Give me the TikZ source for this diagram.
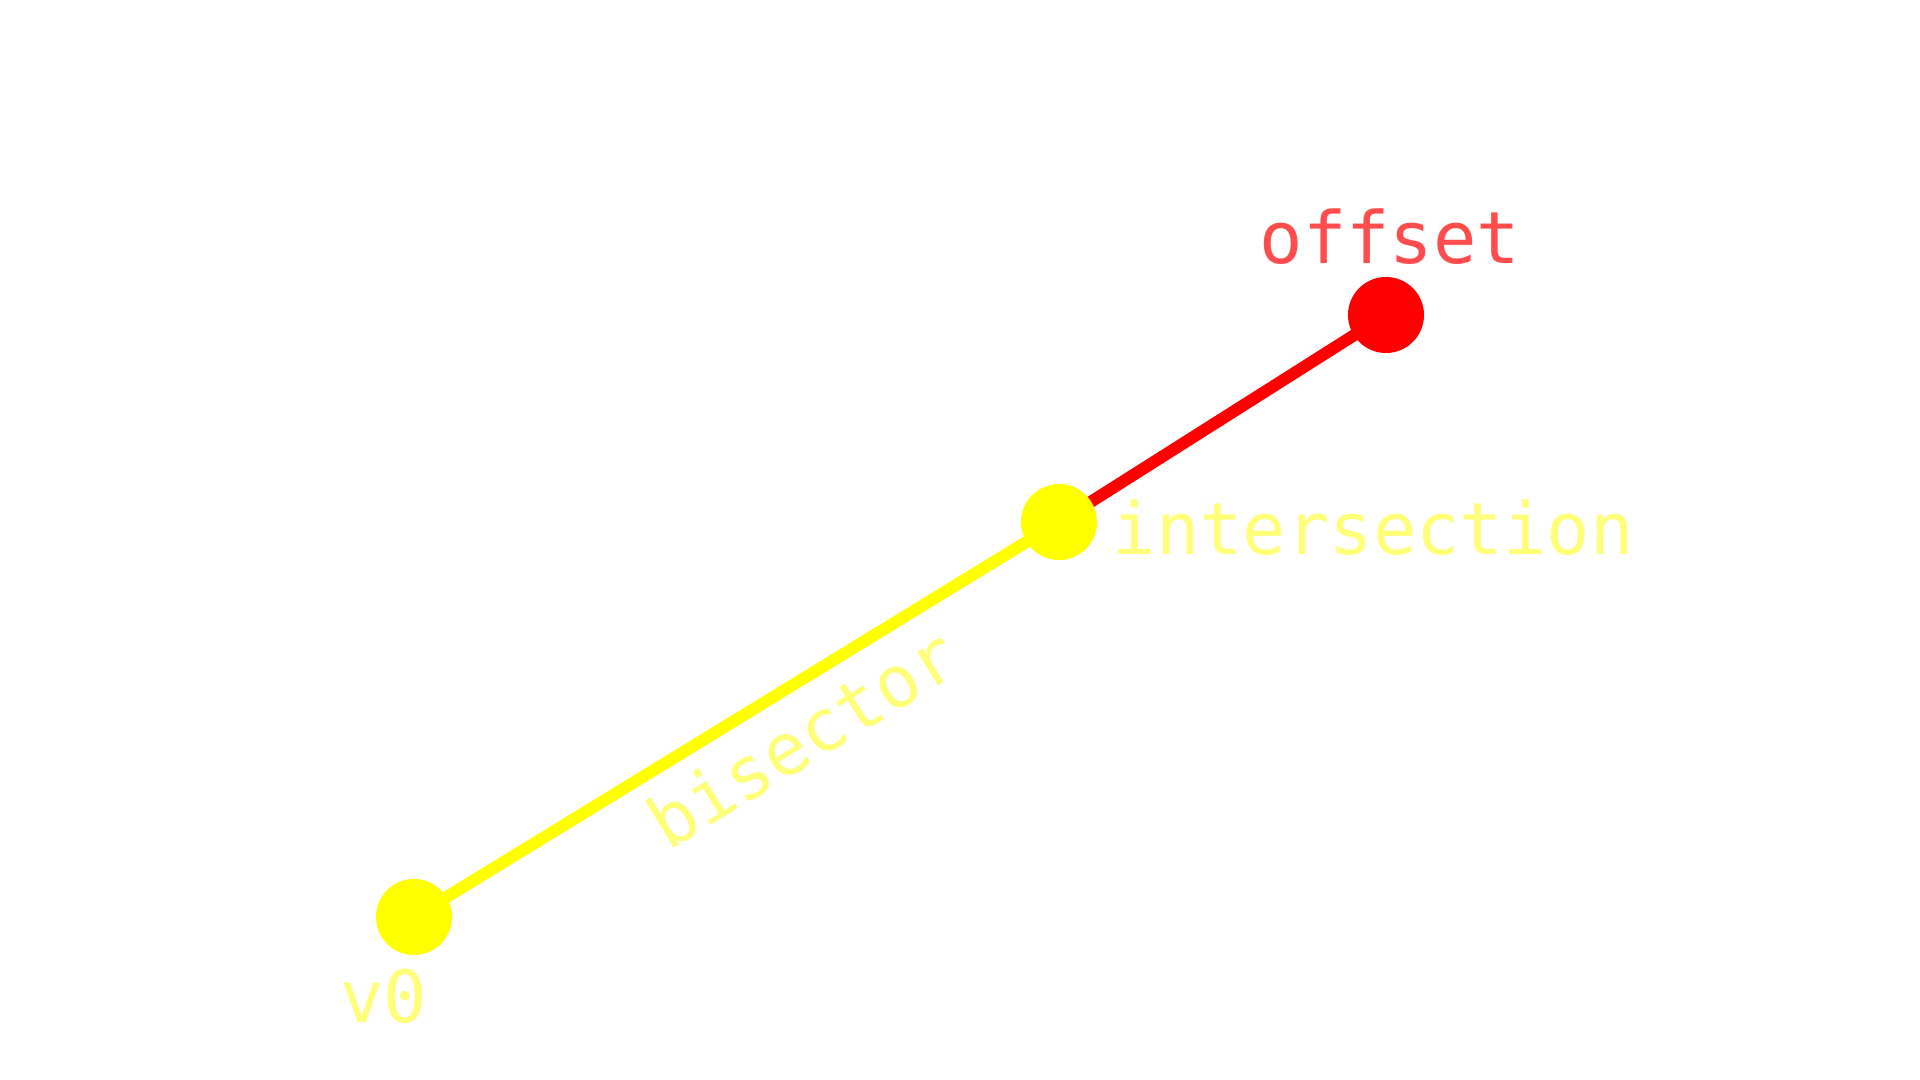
\documentclass[tikz,border=0pt]{standalone}
\usepackage{fontspec}
\setmonofont{DejaVu Sans Mono}
\definecolor{dotyellow}{RGB}{255,255,0}
\definecolor{textyellow}{RGB}{255,255,120}
\definecolor{dotred}{RGB}{255,0,0}
\definecolor{textred}{RGB}{255,77,77}
\tikzset{
  dot/.style={circle, inner sep=0pt, minimum size=0.76cm},
  lbl/.style={font=\ttfamily\fontsize{20.5}{24}\selectfont, inner sep=0pt}
}
\begin{document}
\begin{tikzpicture}[x=0.01cm, y=-0.01cm]
	\useasboundingbox (0,0) rectangle (1920,1080);
	% POINTS
	\coordinate (v0) at (414,917);
	\coordinate (isect) at (1059,522);
	\coordinate (off) at (1386,315);
	% SEGMENTS
	\draw[line width=3.4pt, color=dotyellow] (v0) -- (isect);
	\draw[line width=3.4pt, color=dotred] (isect) -- (off);
	% DOTS
	\node (v0dot) at (v0) [dot, fill=dotyellow] {};
	\node (isectdot) at (isect) [dot, fill=dotyellow] {};
	\node (offdot) at (off) [dot, fill=dotred] {};
	% LABELS
	\node (v0lbl) at (384,996) [lbl, text=textyellow] {v0};
	\node (isectlbl) at (1112,528) [lbl, anchor=west, text=textyellow] {intersection};
	\node (offlbl) at (1390,237) [lbl, text=textred] {offset};
	\node (bislbl) at (802,738) [lbl, rotate=31.5, text=textyellow] {bisector};
\end{tikzpicture}
\end{document}
